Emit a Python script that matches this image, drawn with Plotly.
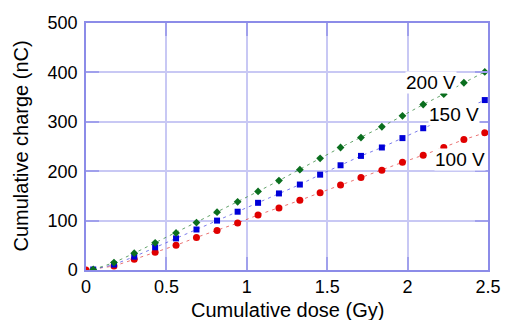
import plotly.graph_objects as go

dose_100 = [0.0, 0.174, 0.30, 0.43, 0.56, 0.687, 0.815, 0.943, 1.07, 1.20, 1.33, 1.456,
            1.583, 1.71, 1.84, 1.968, 2.097, 2.225, 2.35, 2.48]
charge_100 = [0, 8, 21.6, 36, 50, 66, 80, 95, 111.5, 125.6, 141, 156.6,
              172, 187, 202, 218, 232.5, 248, 264, 277.6]

dose_150 = [0.045, 0.174, 0.30, 0.43, 0.56, 0.687, 0.815, 0.943, 1.07, 1.20, 1.33, 1.456,
            1.583, 1.71, 1.84, 1.968, 2.097, 2.48]
charge_150 = [1, 11, 27, 46, 64, 82, 100, 118, 136, 155, 173, 193,
              212, 231, 248, 267, 287, 344]

dose_200 = [0.045, 0.174, 0.30, 0.43, 0.56, 0.687, 0.815, 0.943, 1.07, 1.20, 1.33, 1.456,
            1.583, 1.71, 1.84, 1.968, 2.097, 2.225, 2.35, 2.48]
charge_200 = [1, 15, 34, 55, 75, 96, 117, 138, 159, 181, 203, 226,
              248, 268, 290, 312, 335, 356, 379, 401]

labels = ["100 V", "150 V", "200 V"]
label_x = [2.326, 2.289, 2.146]
label_y = [223, 314, 380]

x_ticks = [0, 0.5, 1, 1.5, 2, 2.5]
x_tick_text = ["0", "0.5", "1", "1.5", "2", "2.5"]
y_ticks = [0, 100, 200, 300, 400, 500]

x_title = "Cumulative dose (Gy)"
y_title = "Cumulative charge (nC)"

FONT = "Liberation Sans, Arial, sans-serif"

fig = go.Figure()
series = [
    (dose_100, charge_100, "#e00000", "rgba(230,80,80,0.8)", "circle", 7),
    (dose_150, charge_150, "#0000d8", "rgba(90,90,230,0.8)", "square", 6),
    (dose_200, charge_200, "#0a6e1e", "rgba(60,140,70,0.8)", "diamond", 6),
]
for xs, ys, mc, lc, sym, sz in series:
    fig.add_trace(go.Scatter(x=xs, y=ys, mode="lines",
                             line=dict(color=lc, width=1, dash="3px,4px"),
                             hoverinfo="skip", showlegend=False))
for xs, ys, mc, lc, sym, sz in series:
    fig.add_trace(go.Scatter(x=xs, y=ys, mode="markers",
                             marker=dict(color=mc, symbol=sym, size=sz, line=dict(width=0)),
                             showlegend=False))

for t, x, y in zip(labels, label_x, label_y):
    fig.add_annotation(x=x, y=y, text=t, showarrow=False, bgcolor="white",
                       font=dict(family=FONT, size=19, color="black"), borderpad=0)

# axis titles as annotations for exact placement
fig.add_annotation(xref="paper", yref="paper", x=0.5, y=-(310 - 270) / 247,
                   xanchor="center", yanchor="middle", text=x_title, showarrow=False,
                   font=dict(family=FONT, size=20, color="black"))
fig.add_annotation(xref="paper", yref="paper", x=(20 - 86) / 402, y=0.5,
                   xanchor="center", yanchor="middle", text=y_title, showarrow=False,
                   textangle=-90, font=dict(family=FONT, size=20, color="black"))

axis_common = dict(
    showline=True, linecolor="#8c8ce8", linewidth=1.5, mirror="ticks",
    showgrid=True, gridcolor="#c8c8f4", gridwidth=1.5,
    ticks="inside", ticklen=13, tickcolor="#a0a0ec", tickwidth=1.5,
    zeroline=False, automargin=False,
    tickfont=dict(family=FONT, size=18, color="black"),
)

fig.update_xaxes(range=[0, 2.5], tickvals=x_ticks, ticktext=x_tick_text,
                 ticklabelstandoff=0, **axis_common)
fig.update_yaxes(range=[0, 500], tickvals=y_ticks,
                 ticklabelstandoff=3, **axis_common)

fig.update_layout(width=505, height=320, margin=dict(l=86, r=17, t=23, b=50),
                  plot_bgcolor="white", paper_bgcolor="white")

fig.write_html("out.html")
